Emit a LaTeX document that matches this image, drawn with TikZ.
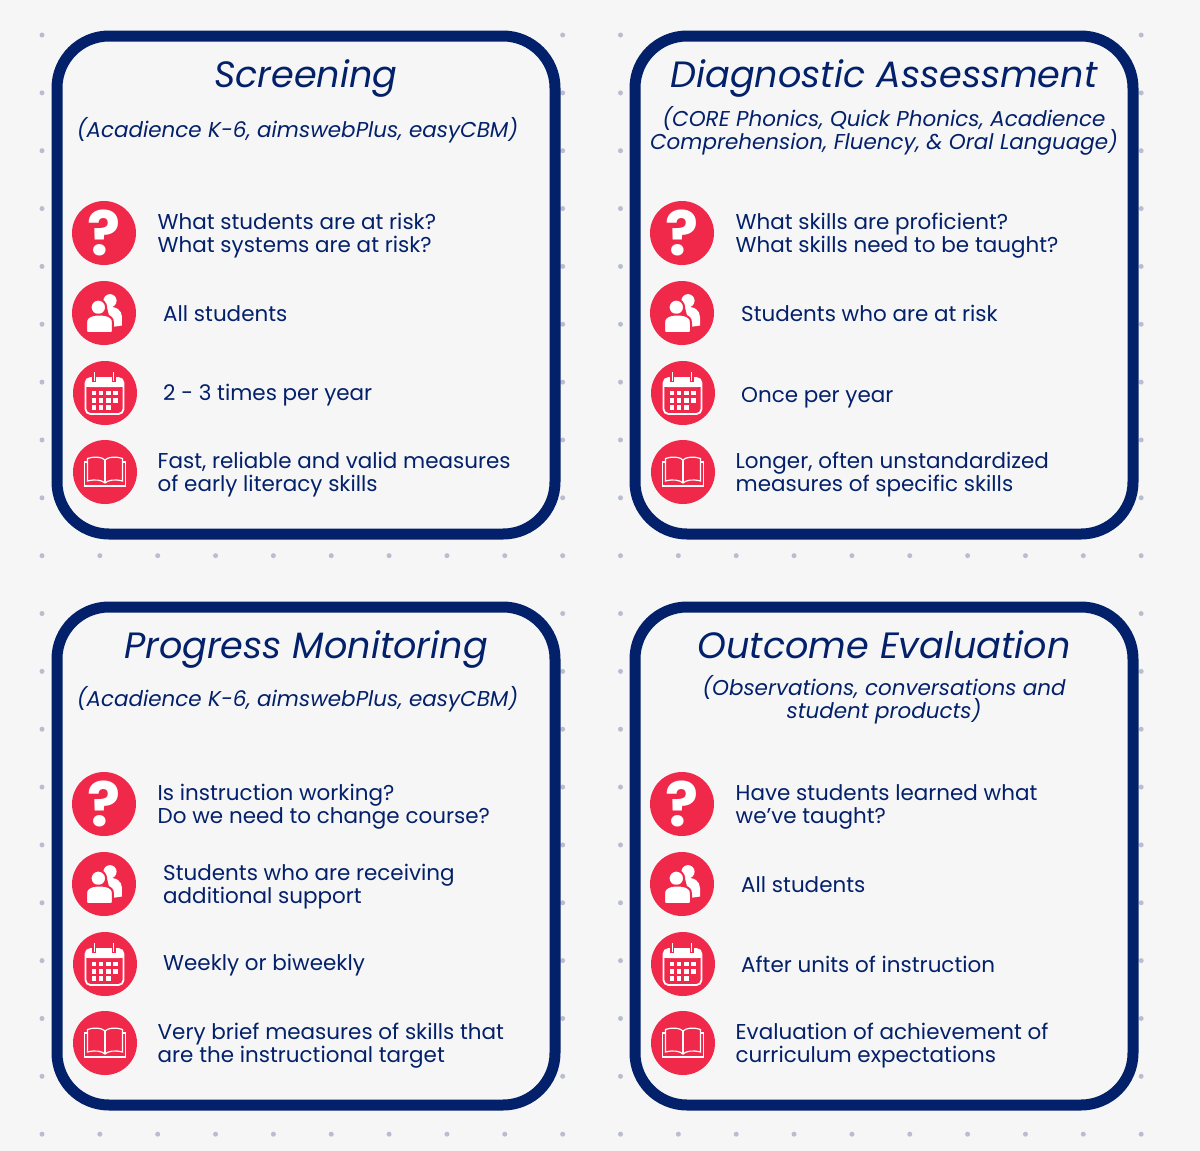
\documentclass[tikz,border=0pt]{standalone}
\usepackage{fontspec}
\setmainfont{Poppins}
\lineskiplimit=-10pt
\definecolor{navy}{HTML}{03206A}
\definecolor{alarm}{HTML}{F0284A}
\definecolor{paper}{HTML}{F6F6F6}
\definecolor{speck}{HTML}{B9BDD0}
\tikzset{
  card/.style={draw=navy, fill=paper, line width=0.11cm, rounded corners=0.52cm},
  cardtitle/.style={text=navy, anchor=base, inner sep=0pt, font=\fontsize{10.42}{12}\selectfont\itshape},
  cardsource/.style={text=navy, anchor=base, align=center, inner sep=0pt, font=\fontsize{6.11}{6.52}\selectfont\itshape},
  cardtext/.style={text=navy, anchor=base west, align=left, inner sep=0pt, font=\fontsize{6.11}{6.52}\selectfont},
  ball/.style={circle, fill=alarm, minimum size=0.64cm, inner sep=0pt},
  asks/.pic={
    \node[ball] (-ball) at (0,0) {};
    \node[text=white, font=\fontsize{17.5}{18}\selectfont\bfseries] (-mark) at (0,0) {?};
  },
  people/.pic={
    \node[ball] (-ball) at (0,0) {};
    \fill[white] (0.06,-0.123) circle (0.066);
    \fill[white] (0.03,-0.06) .. controls (0.12,-0.07) and (0.18,-0.03) .. (0.18,0.04) -- (0.18,0.125) -- (0.08,0.14) -- cycle;
    \filldraw[white, draw=alarm, line width=0.02cm] (-0.057,-0.057) circle (0.078);
    \filldraw[white, draw=alarm, line width=0.02cm, rounded corners=0.02cm] (-0.18,0.2) -- (-0.18,0.09) .. controls (-0.17,0.04) and (-0.12,0.015) .. (-0.047,0.015) .. controls (0.03,0.015) and (0.08,0.04) .. (0.09,0.09) -- (0.09,0.2) -- cycle;
  },
  planner/.pic={
    \node[ball] (-ball) at (0,0) {};
    \draw[white, line width=0.018cm, rounded corners=0.05cm] (-0.195,-0.15) rectangle (0.185,0.21);
    \fill[white, rounded corners=0.04cm] (-0.195,-0.15) rectangle (0.185,-0.06);
    \fill[white] (-0.195,-0.1) rectangle (0.185,-0.06);
    \foreach \col/\row in {0/0,1/0,2/0,3/0,0/1,1/1,2/1,3/1,0/2,1/2,2/2} {
      \fill[white] (-0.135+0.072*\col,-0.022+0.072*\row) rectangle ++(0.046,0.046);
    }
    \foreach \ring in {-0.107,0.087} {
      \draw[alarm, line width=0.04cm] (\ring,-0.21) -- (\ring,-0.11);
      \draw[white, line width=0.015cm] (\ring,-0.21) -- (\ring,-0.12);
    }
  },
  reader/.pic={
    \node[ball] (-ball) at (0,0) {};
    \draw[white, line width=0.012cm] (-0.175,-0.135) .. controls (-0.1,-0.16) and (-0.03,-0.15) .. (0,-0.12) .. controls (0.03,-0.15) and (0.1,-0.16) .. (0.175,-0.135) -- (0.175,0.09) .. controls (0.1,0.07) and (0.03,0.08) .. (0,0.11) .. controls (-0.03,0.08) and (-0.1,0.07) .. (-0.175,0.09) -- cycle;
    \draw[white, line width=0.012cm] (0,-0.12) -- (0,0.11);
    \draw[white, line width=0.012cm] (-0.175,-0.1) -- (-0.205,-0.1) -- (-0.205,0.14) -- (0.205,0.14) -- (0.205,-0.1) -- (0.175,-0.1);
  },
}
\begin{document}
\begin{tikzpicture}[y=-1cm]
  \fill[paper] (0,0) rectangle (12,11.51);
  \useasboundingbox (0,0) rectangle (12,11.51);

  % Dots behind the cards
  \foreach \i in {0,...,19} \foreach \j in {0,...,19} {
    \fill[speck] (0.42+0.5785*\i,0.35+0.5785*\j) circle (0.025);
  }

  % Screening
  \begin{scope}
    \draw[card] (0.57,0.36) rectangle (5.55,5.34);
    \node[cardtitle] (screen title) at (3.06,0.87) {Screening};
    \node[cardsource] (screen source) at (2.975,1.37) {(Acadience K-6, aimswebPlus, easyCBM)};
    \pic (screen asks) at (1.04,2.33) {asks};
    \pic (screen people) at (1.04,3.13) {people};
    \pic (screen planner) at (1.05,3.93) {planner};
    \pic (screen reader) at (1.05,4.72) {reader};
    \node[cardtext] (screen why) at (1.57,2.52) {What students are at risk?\\What systems are at risk?};
    \node[cardtext] (screen who) at (1.625,3.21) {All students};
    \node[cardtext] (screen when) at (1.625,4.00) {2 - 3 times per year};
    \node[cardtext] (screen how) at (1.57,4.91) {Fast, reliable and valid measures\\of early literacy skills};
  \end{scope}

  % Diagnostic Assessment
  \begin{scope}[xshift=5.78cm]
    \draw[card] (0.57,0.36) rectangle (5.55,5.34);
    \node[cardtitle] (diag title) at (3.06,0.87) {Diagnostic Assessment};
    \node[cardsource] (diag source) at (3.06,1.49) {(CORE Phonics, Quick Phonics, Acadience\\Comprehension, Fluency, \& Oral Language)};
    \pic (diag asks) at (1.04,2.33) {asks};
    \pic (diag people) at (1.04,3.13) {people};
    \pic (diag planner) at (1.05,3.93) {planner};
    \pic (diag reader) at (1.05,4.72) {reader};
    \node[cardtext] (diag why) at (1.57,2.52) {What skills are proficient?\\What skills need to be taught?};
    \node[cardtext] (diag who) at (1.625,3.21) {Students who are at risk};
    \node[cardtext] (diag when) at (1.625,4.02) {Once per year};
    \node[cardtext] (diag how) at (1.57,4.91) {Longer, often unstandardized\\measures of specific skills};
  \end{scope}

  % Progress Monitoring
  \begin{scope}[yshift=-5.71cm]
    \draw[card] (0.57,0.36) rectangle (5.55,5.34);
    \node[cardtitle] (prog title) at (3.06,0.87) {Progress Monitoring};
    \node[cardsource] (prog source) at (2.975,1.35) {(Acadience K-6, aimswebPlus, easyCBM)};
    \pic (prog asks) at (1.04,2.33) {asks};
    \pic (prog people) at (1.04,3.13) {people};
    \pic (prog planner) at (1.05,3.93) {planner};
    \pic (prog reader) at (1.05,4.72) {reader};
    \node[cardtext] (prog why) at (1.57,2.52) {Is instruction working?\\Do we need to change course?};
    \node[cardtext] (prog who) at (1.625,3.32) {Students who are receiving\\additional support};
    \node[cardtext] (prog when) at (1.625,3.99) {Weekly or biweekly};
    \node[cardtext] (prog how) at (1.57,4.91) {Very brief measures of skills that\\are the instructional target};
  \end{scope}

  % Outcome Evaluation
  \begin{scope}[xshift=5.78cm, yshift=-5.71cm]
    \draw[card] (0.57,0.36) rectangle (5.55,5.34);
    \node[cardtitle] (out title) at (3.06,0.87) {Outcome Evaluation};
    \node[cardsource] (out source) at (3.06,1.47) {(Observations, conversations and\\student products)};
    \pic (out asks) at (1.04,2.33) {asks};
    \pic (out people) at (1.04,3.13) {people};
    \pic (out planner) at (1.05,3.93) {planner};
    \pic (out reader) at (1.05,4.72) {reader};
    \node[cardtext] (out why) at (1.57,2.52) {Have students learned what\\we’ve taught?};
    \node[cardtext] (out who) at (1.625,3.21) {All students};
    \node[cardtext] (out when) at (1.625,4.01) {After units of instruction};
    \node[cardtext] (out how) at (1.57,4.91) {Evaluation of achievement of\\curriculum expectations};
  \end{scope}
\end{tikzpicture}
\end{document}
